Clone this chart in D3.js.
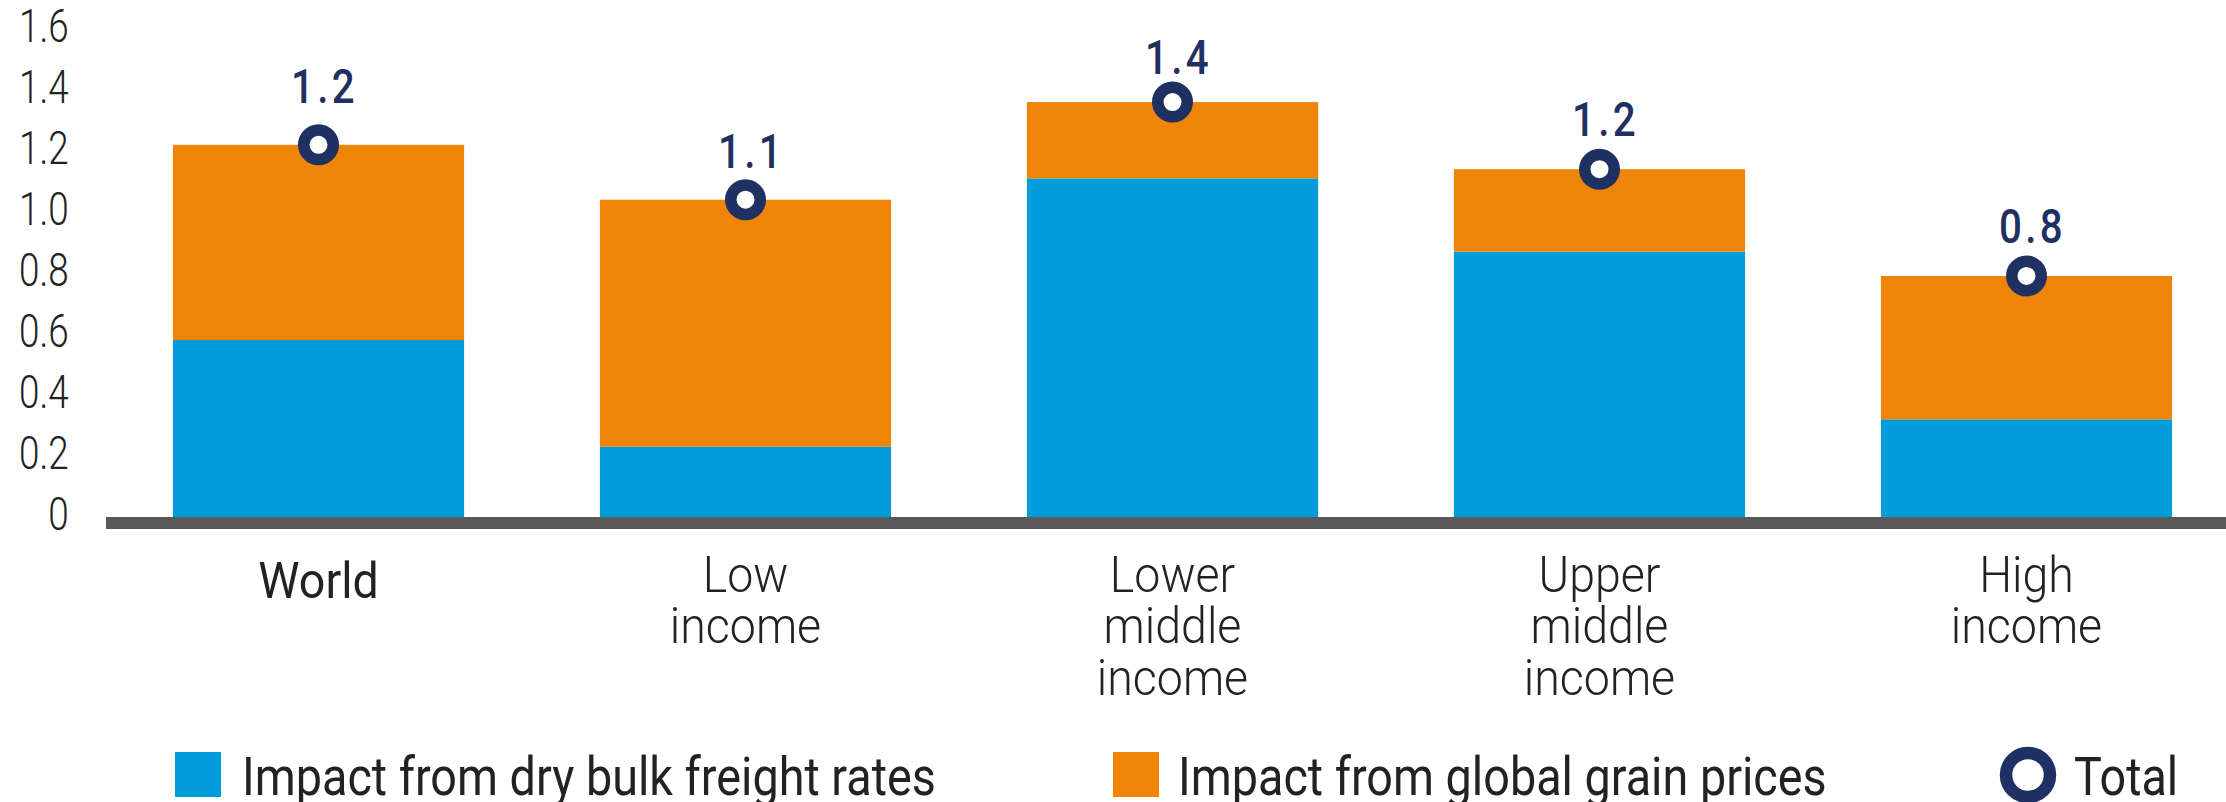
<!DOCTYPE html>
<html>
<head>
<meta charset="utf-8">
<script src="https://cdn.jsdelivr.net/npm/d3@7"></script>
<style>
    html, body { margin: 0; padding: 0; background: #fff; }
    svg { display: block; font-family: Roboto, "Noto Sans", sans-serif; }
</style>
</head>
<body>
<svg id="chart"></svg>
<script>
// values
const categories = ['World', 'Low income', 'Lower middle income', 'Upper middle income', 'High income'];
const freightRates = [0.60, 0.25, 1.13, 0.89, 0.34];
const grainPrices = [0.64, 0.81, 0.25, 0.27, 0.47];
const totals = [1.24, 1.06, 1.38, 1.16, 0.81];
const yTickValues = [0, 0.2, 0.4, 0.6, 0.8, 1.0, 1.2, 1.4, 1.6];
const yTickLabels = ['0', '0.2', '0.4', '0.6', '0.8', '1.0', '1.2', '1.4', '1.6'];
const seriesNames = ['Impact from dry bulk freight rates', 'Impact from global grain prices'];

// layout: how far each total label sits above its marker (hand placed in the original)
const labelGap = [42, 32, 28, 33, 33];

const colors = { freight: '#019dda', grain: '#ee8506', total: '#1f3162', axis: '#595959', text: '#222' };

const width = 2226;
const height = 802;

const svg = d3.select('#chart')
    .attr('width', width)
    .attr('height', height);

const x = d3.scaleBand()
    .domain(categories)
    .range([105, 2240])
    .paddingInner(0.318)
    .paddingOuter(0.159);

const y = d3.scaleLinear()
    .domain([0, 1.6])
    .range([523, 35]);

const cx = d => x(d) + x.bandwidth() / 2;

const rows = categories.map((c, i) => ({
    category: c, freight: freightRates[i], grain: grainPrices[i], total: totals[i], gap: labelGap[i],
}));

const layers = d3.stack().keys(['freight', 'grain'])(rows);

// bars
svg.append('g').attr('class', 'bars')
    .selectAll('g')
    .data(layers)
    .join('g')
    .attr('fill', d => colors[d.key])
    .selectAll('rect')
    .data(d => d)
    .join('rect')
    .attr('x', d => x(d.data.category))
    .attr('width', x.bandwidth())
    .attr('y', d => y(d[1]))
    .attr('height', d => y(d[0]) - y(d[1]));

// baseline
svg.append('line')
    .attr('x1', 106)
    .attr('x2', width)
    .attr('y1', y(0))
    .attr('y2', y(0))
    .attr('stroke', colors.axis)
    .attr('stroke-width', 12);

// y axis, labels only
const yAxis = d3.axisLeft(y)
    .tickValues(yTickValues)
    .tickFormat((d, i) => yTickLabels[i])
    .tickSize(0)
    .tickPadding(8);

const gY = svg.append('g')
    .attr('class', 'axis axis--y')
    .attr('transform', 'translate(75,0)')
    .call(yAxis);

gY.select('.domain').remove();
gY.selectAll('text')
    .attr('dy', '0.14em')
    .attr('transform', 'scale(0.8,1)')
    .style('font-family', 'Roboto')
    .style('font-size', '46px')
    .style('font-weight', 300)
    .style('fill', colors.text);

// category labels
const cat = svg.append('g').attr('class', 'categories')
    .selectAll('text')
    .data(categories)
    .join('text')
    .attr('transform', d => `translate(${cx(d)},${d === 'World' ? 598 : 592}) scale(0.93,1)`)
    .attr('text-anchor', 'middle')
    .style('font-size', '50px')
    .style('font-weight', d => d === 'World' ? 400 : 300)
    .style('fill', colors.text);

cat.selectAll('tspan')
    .data(d => d.split(' '))
    .join('tspan')
    .attr('x', 0)
    .attr('dy', (d, i) => i === 0 ? 0 : 51.5)
    .text(d => d);

// total markers
const totalG = svg.append('g').attr('class', 'totals');

totalG.selectAll('circle')
    .data(rows)
    .join('circle')
    .attr('cx', d => cx(d.category))
    .attr('cy', d => y(d.total))
    .attr('r', 14.75)
    .attr('fill', '#fff')
    .attr('stroke', colors.total)
    .attr('stroke-width', 11.5);

totalG.selectAll('text')
    .data(rows)
    .join('text')
    .attr('transform', d => `translate(${cx(d.category) + 6},${y(d.total) - d.gap}) scale(0.84,1)`)
    .attr('text-anchor', 'middle')
    .style('font-size', '48px')
    .style('font-weight', 500)
    .style('letter-spacing', '4px')
    .style('fill', colors.total)
    .text(d => d3.format('.1f')(d.total));

// legend
const legend = svg.append('g').attr('class', 'legend');

const legendItems = [
    { name: seriesNames[0], color: colors.freight, sx: 175, tx: 242 },
    { name: seriesNames[1], color: colors.grain, sx: 1113, tx: 1178 },
];

legend.selectAll('rect')
    .data(legendItems)
    .join('rect')
    .attr('x', d => d.sx)
    .attr('y', 752)
    .attr('width', 46)
    .attr('height', 45)
    .attr('fill', d => d.color);

legend.selectAll('text.series')
    .data(legendItems)
    .join('text')
    .attr('class', 'series')
    .attr('transform', d => `translate(${d.tx},795) scale(0.882,1)`)
    .style('font-size', '53px')
    .style('fill', colors.text)
    .text(d => d.name);

legend.append('circle')
    .attr('cx', 2028)
    .attr('cy', 775)
    .attr('r', 22)
    .attr('fill', '#fff')
    .attr('stroke', colors.total)
    .attr('stroke-width', 12.5);

legend.append('text')
    .attr('transform', 'translate(2074,795) scale(0.88,1)')
    .style('font-size', '53px')
    .style('fill', colors.text)
    .text('Total');
</script>
</body>
</html>
